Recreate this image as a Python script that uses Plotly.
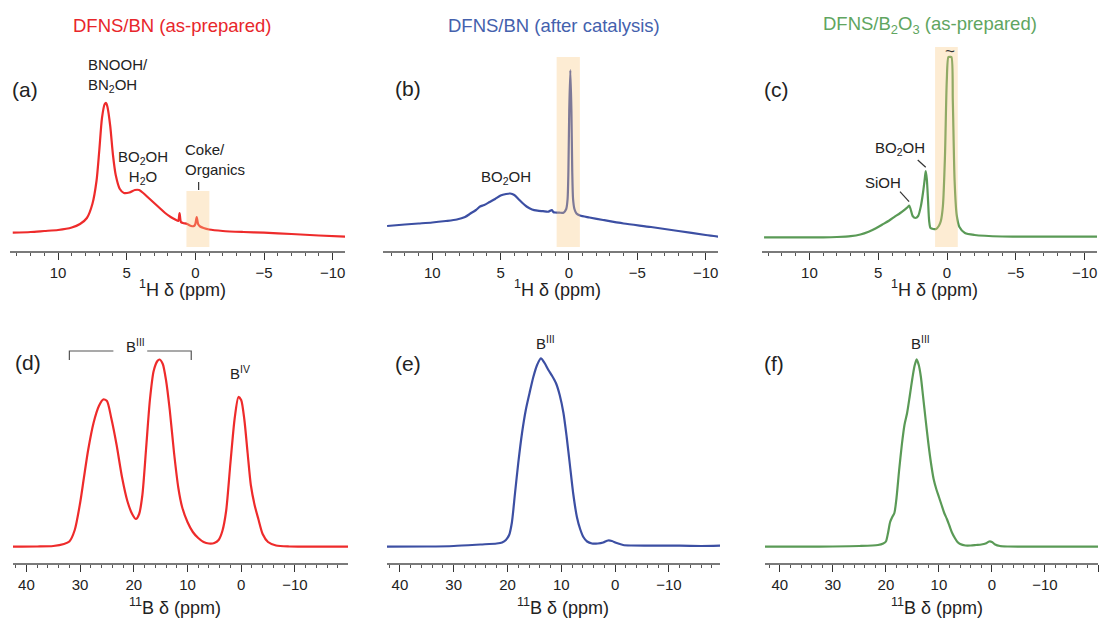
import plotly.graph_objects as go

W, H = 1101, 619
FONT = "Liberation Sans, Arial, sans-serif"

RED, BLUE, GREEN = "#ee2b2b", "#3c4fa3", "#5a9a56"
RED_T, BLUE_T, GREEN_T = "#e8262b", "#4461ad", "#60a560"

# ---------------- data (ppm, intensity in arbitrary units) ----------------
a_ppm = [13.3, 12.0, 11.0, 10.0, 9.0, 8.4, 7.9, 7.5, 7.2, 7.0, 6.8, 6.6, 6.5, 6.4, 6.2, 6.0, 5.8,
         5.5, 5.2, 4.8, 4.4, 4.1, 3.8, 3.4, 3.0, 2.6, 2.2, 1.8, 1.4, 1.25, 1.15, 1.05, 0.9, 0.6,
         0.3, 0.1, 0.0, -0.1, -0.2, -0.35, -0.6, -1.0, -2.0, -3.5, -5.0, -7.0, -9.0, -11.0]
a_int = [18.3, 19, 20, 21, 23.5, 27, 33, 47, 70, 100, 133, 147, 148, 144, 125, 96, 76,
         62, 58, 58.5, 61, 61, 58, 53, 48, 43, 38, 34, 31, 30, 38, 29, 28, 27,
         25, 25, 27, 34, 27, 24.5, 23, 21.5, 20, 19, 18.3, 17, 15.5, 14.3]

b_ppm = [13.3, 12, 11, 10, 9, 8.2, 7.6, 7.2, 6.8, 6.5, 6.2, 5.8, 5.4, 5.0, 4.6, 4.3, 4.0, 3.7,
         3.4, 3.1, 2.7, 2.3, 1.9, 1.5, 1.25, 1.15, 1.0, 0.7, 0.4, 0.2, 0.1, 0.04, -0.02, -0.1,
         -0.18, -0.24, -0.3, -0.4, -0.55, -0.8, -1.5, -2.5, -4, -6, -8, -10, -11]
b_int = [25, 26.5, 27.5, 28.5, 30, 31.5, 34, 37.5, 41, 44.5, 46, 49, 52, 55.5, 57, 57.5, 56, 52,
         48, 44.5, 41.5, 40.3, 39.8, 39.3, 41, 39, 38.5, 38.3, 38.3, 42, 52, 80, 140, 181,
         140, 80, 52, 42, 37.5, 35.5, 33.5, 31, 27.5, 24, 20, 16, 14.3]

c_ppm = [13.3, 11, 9, 8, 7, 6.3, 5.7, 5.2, 4.7, 4.2, 3.8, 3.4, 3.05, 2.85, 2.75, 2.65, 2.5, 2.3,
         2.1, 1.9, 1.75, 1.62, 1.55, 1.47, 1.38, 1.3, 1.2, 1.0, 0.8, 0.6, 0.45, 0.3, 0.15, 0.02,
         -0.1, -0.21, -0.32, -0.42, -0.55, -0.7, -0.9, -1.3, -2, -4, -7, -11]
c_int = [13.7, 13.7, 13.7, 14, 14.8, 16.5, 19.3, 22.5, 26.5, 30.5, 34.3, 38, 41.7, 44, 45.3, 42, 35, 33,
         35, 45, 58, 72, 80, 72, 50, 30, 23, 22, 22, 25, 30, 45, 95, 170,
         194, 194, 194, 150, 70, 36, 24, 18, 16, 14.5, 14.3, 14.3]

d_ppm = [42.5, 38, 35, 33, 32, 31, 30, 29.3, 28.5, 27.5, 26.5, 25.7, 25, 24.2, 23.2, 22.2, 21.2,
         20.3, 19.6, 19, 18.4, 17.7, 17, 16.3, 15.6, 15.2, 14.6, 14, 13.3, 12.5, 11.7, 11, 10, 9,
         8, 7, 6, 5, 4.2, 3.5, 2.8, 2, 1.2, 0.5, 0, -0.6, -1.2, -1.8, -2.5, -3.2, -4, -5, -6.5,
         -9, -12, -16, -20]
d_int = [16.3, 16.5, 17, 19, 21.5, 33, 60, 85, 113, 140, 157, 163.5, 162, 145, 118, 86, 62,
         49, 44, 49, 68, 115, 163, 192, 202, 203.5, 199, 183, 153, 110, 75, 56, 41, 31,
         25, 21, 19.5, 20, 23, 32, 52, 100, 145, 166, 163, 143, 110, 78, 58, 44, 29, 21, 17.5,
         16.5, 16.3, 16.3, 16.3]

e_ppm = [42.5, 35, 30, 25, 22, 21, 20.3, 19.7, 19.2, 18.6, 18, 17.3, 16.6, 15.9, 15.2, 14.5, 13.8,
         13.1, 12.4, 11.7, 11, 10.3, 9.6, 9, 8.4, 7.8, 7.1, 6.5, 5.9, 5.2, 4.3, 3.2, 2.2, 1.3, 0.6,
         -0.3, -1.5, -3, -7, -12, -16, -19.5]
e_int = [16.3, 16.5, 17, 18.5, 19.5, 20.5, 23, 28, 40, 70, 100, 130, 153, 170, 186, 198, 204.7,
         200, 193, 187, 180, 168, 150, 126, 98, 70, 46, 34, 26, 21.5, 19.5, 19.5, 20.5, 22.5, 22,
         20, 18, 17.5, 17.3, 17.3, 17, 17.3]

f_ppm = [42.8, 35, 30, 25, 21.5, 20.5, 20, 19.6, 19.2, 18.8, 18.4, 18, 17.5, 17, 16.5, 16, 15.5,
         15, 14.6, 14.2, 13.8, 13.4, 13, 12.5, 12, 11.5, 11, 10.5, 10, 9.5, 9, 8.5, 8, 7.5, 7,
         6.5, 6, 5, 4, 3, 2, 1.2, 0.5, 0, -0.6, -1.5, -3, -6, -10, -15, -20]
f_int = [16.3, 16.3, 16.5, 17, 18, 19.5, 21.5, 30, 41, 46, 50, 65, 93, 118, 138, 150, 167,
         185, 197, 203.7, 198, 186, 167, 143, 120, 100, 84, 74, 66, 58, 50, 44, 37, 30, 25,
         21, 19, 17.5, 17.5, 18, 18.5, 19.5, 21.5, 21, 18.5, 17, 16.5, 16.3, 16.3, 16.3, 16.3]

titles = ["DFNS/BN (as-prepared)", "DFNS/BN (after catalysis)", "DFNS/B<sub>2</sub>O<sub>3</sub> (as-prepared)"]
panel_labels = ["(a)", "(b)", "(c)", "(d)", "(e)", "(f)"]
h_title = "<sup>1</sup>H δ (ppm)"
b_title = "<sup>11</sup>B δ (ppm)"

# ---------------- layout geometry ----------------
def px(x):
    return x / W

def py(y):
    return 1 - y / H

x_domains = [(10, 345), (383, 718), (762, 1097), (13, 348), (387, 720), (765, 1098)]
x_ranges = [[13.5, -10.9], [13.6, -10.9], [13.45, -10.9], [42.5, -19.9], [42.4, -19.5], [42.8, -20]]
top_y = (py(251), py(45))
bot_y = (py(563), py(335))

series = [(a_ppm, a_int, RED), (b_ppm, b_int, BLUE), (c_ppm, c_int, GREEN),
          (d_ppm, d_int, RED), (e_ppm, e_int, BLUE), (f_ppm, f_int, GREEN)]

fig = go.Figure()
layout = dict(width=W, height=H, margin=dict(l=0, r=0, t=0, b=0, autoexpand=False),
              paper_bgcolor="white", plot_bgcolor="rgba(0,0,0,0)",
              showlegend=False, font=dict(family=FONT, color="#222", size=14))

for i, (xs, ys, col) in enumerate(series):
    n = i + 1
    xa = "x" if n == 1 else f"x{n}"
    ya = "y" if n == 1 else f"y{n}"
    fig.add_trace(go.Scatter(x=xs, y=ys, mode="lines", xaxis=xa, yaxis=ya,
                             line=dict(color=col, width=2.2, shape="spline", smoothing=0.7),
                             hoverinfo="skip"))
    top = i < 3
    xkey = "xaxis" if n == 1 else f"xaxis{n}"
    ykey = "yaxis" if n == 1 else f"yaxis{n}"
    layout[xkey] = dict(domain=[px(x_domains[i][0]), px(x_domains[i][1])], range=x_ranges[i],
                        anchor=ya, showline=True, linecolor="#7a7a7a", linewidth=1.5,
                        ticks="outside", ticklen=7, tickwidth=1.3, tickcolor="#333",
                        tick0=0, dtick=5 if top else 10, automargin=False,
                        minor=dict(ticks="outside", ticklen=3.5, tickwidth=1, tickcolor="#555",
                                   dtick=1 if top else 2),
                        showgrid=False, zeroline=False,
                        tickfont=dict(size=15, color="#222", family=FONT))
    layout[ykey] = dict(domain=list(top_y if top else bot_y), range=[0, 206] if top else [0, 228],
                        anchor=xa, visible=False, showgrid=False, zeroline=False, automargin=False)

fig.update_layout(**layout)

# shaded regions (above lines, semi-transparent)
boxes = [("x", "y", 0.65, -1.02, 4, 60), ("x2", "y2", 0.9, -0.8, 4, 194), ("x3", "y3", 0.87, -0.78, 4, 204)]
for xr, yr, x0, x1, y0, y1 in boxes:
    fig.add_shape(type="rect", xref=xr, yref=yr, x0=x0, x1=x1, y0=y0, y1=y1,
                  fillcolor="rgba(250,200,130,0.35)", line=dict(width=0), layer="above")

ann = []
# column titles
for t, cx, col in zip(titles, [172, 554, 930], [RED_T, BLUE_T, GREEN_T]):
    ann.append(dict(text=t, x=px(cx), y=py(25), xref="paper", yref="paper", showarrow=False,
                    xanchor="center", yanchor="middle", font=dict(size=18.5, color=col)))
# panel labels
for lab, (lx, ly) in zip(panel_labels, [(10, 90), (393, 88), (762, 90), (13, 362), (393, 363), (762, 363)]):
    ann.append(dict(text=lab, x=px(lx), y=py(ly), xref="paper", yref="paper", showarrow=False,
                    xanchor="left", yanchor="middle", font=dict(size=21, color="#222")))
# axis titles
for cx in [182, 557, 934]:
    ann.append(dict(text=h_title, x=px(cx), y=py(288), xref="paper", yref="paper", showarrow=False,
                    xanchor="center", yanchor="middle", font=dict(size=18, color="#222")))
for cx in [175, 563, 937]:
    ann.append(dict(text=b_title, x=px(cx), y=py(606), xref="paper", yref="paper", showarrow=False,
                    xanchor="center", yanchor="middle", font=dict(size=18, color="#222")))

small = dict(size=15, color="#222")
# peak labels (data coordinates)
ann += [
    dict(text="BNOOH/<br>BN<sub>2</sub>OH", x=8.0, y=176, xref="x", yref="y", xanchor="left", align="left"),
    dict(text="BO<sub>2</sub>OH<br>H<sub>2</sub>O", x=3.8, y=83.5, xref="x", yref="y", xanchor="center", align="center"),
    dict(text="Coke/<br>Organics", x=0.87, y=92, xref="x", yref="y", xanchor="left", align="left"),
    dict(text="BO<sub>2</sub>OH", x=4.6, y=74, xref="x2", yref="y2", xanchor="center"),
    dict(text="BO<sub>2</sub>OH", x=3.42, y=103, xref="x3", yref="y3", xanchor="center"),
    dict(text="SiOH", x=4.65, y=68.5, xref="x3", yref="y3", xanchor="center"),
    dict(text="~", x=-0.2, y=199, xref="x3", yref="y3", xanchor="center", font=dict(size=17, color="#333")),
    dict(text="B<sup>III</sup>", x=19.7, y=218, xref="x4", yref="y4", xanchor="center"),
    dict(text="B<sup>IV</sup>", x=0.2, y=191, xref="x4", yref="y4", xanchor="center"),
    dict(text="B<sup>III</sup>", x=13.0, y=221, xref="x5", yref="y5", xanchor="center"),
    dict(text="B<sup>III</sup>", x=13.4, y=221, xref="x6", yref="y6", xanchor="center"),
]
for a in ann:
    a.setdefault("showarrow", False)
    a.setdefault("yanchor", "middle")
    a.setdefault("font", small)
fig.update_layout(annotations=ann)

# leader lines and bracket
ln = dict(color="#333", width=1.2)
fig.add_shape(type="line", xref="x", yref="y", x0=-0.24, x1=-0.24, y0=69, y1=61, line=ln)
fig.add_shape(type="line", xref="x3", yref="y3", x0=2.13, x1=1.55, y0=91, y1=83.7, line=ln)
fig.add_shape(type="line", xref="x3", yref="y3", x0=3.42, x1=2.76, y0=59.3, y1=49.3, line=ln)
br = dict(color="#555", width=1.2)
fig.add_shape(type="path", xref="x4", yref="y4", path="M 32.0,203 L 32.0,212 L 23.8,212", line=br)
fig.add_shape(type="path", xref="x4", yref="y4", path="M 17.5,212 L 9.3,212 L 9.3,203", line=br)

fig.write_html("out.html", config={"displayModeBar": False},
               post_script="document.body.style.margin='0px';document.body.style.overflow='hidden';")
